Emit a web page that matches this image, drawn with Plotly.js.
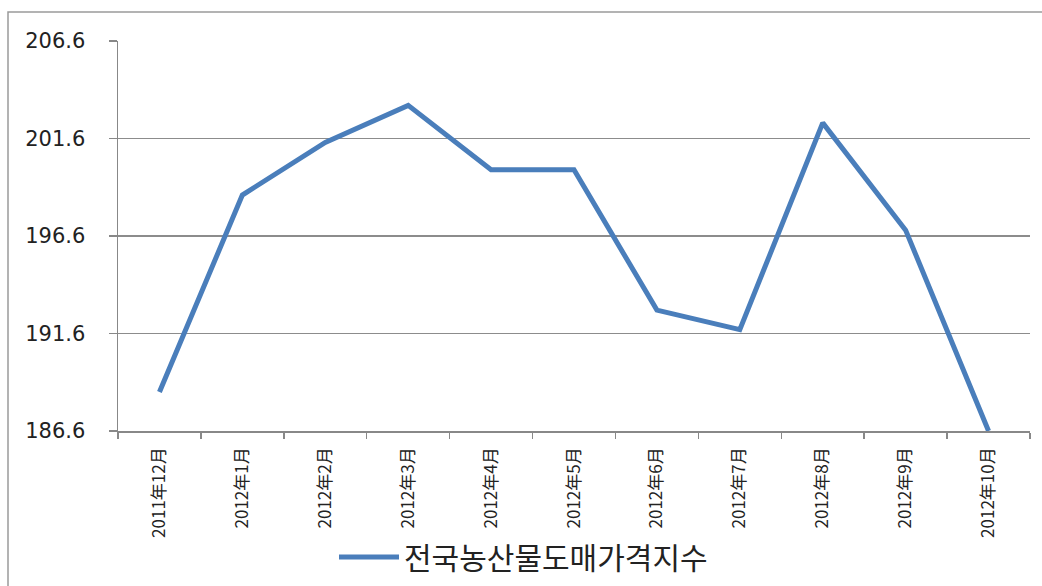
<!DOCTYPE html>
<html>
<head>
<meta charset="utf-8">
<script src="https://cdn.plot.ly/plotly-3.0.1.min.js"></script>
<style>html,body{margin:0;padding:0;background:#fff;}#chart{width:1042px;height:586px;}</style>
</head>
<body>
<div id="chart"></div>
<script>
const categories = ["2011年12月","2012年1月","2012年2月","2012年3月","2012年4月","2012年5月","2012年6月","2012年7月","2012年8月","2012年9月","2012年10月"];
const seriesName = "전국농산물도매가격지수";
const values = [188.6, 198.7, 201.4, 203.3, 200.0, 200.0, 192.8, 191.8, 202.4, 196.9, 186.6];
const yTicks = [186.6, 191.6, 196.6, 201.6, 206.6];
const yTickText = ["186.6","191.6","196.6","201.6","206.6"];

const L = 118, R = 1030, T = 41, B = 431, W = 1042, H = 586;
const px = x => (x - L) / (R - L);
const py = y => (B - y) / (B - T);

const trace = {
  x: categories, y: values, type: 'scatter', mode: 'lines', name: seriesName,
  line: {color: '#4A7EBB', width: 5}, cliponaxis: true
};
const layout = {
  width: W, height: H,
  margin: {l: L, r: W - R, t: T, b: H - B, pad: 0, autoexpand: false},
  paper_bgcolor: '#fff', plot_bgcolor: '#fff',
  font: {family: 'DejaVu Sans, sans-serif', color: '#222'},
  xaxis: {
    type: 'category', tickson: 'boundaries', ticks: 'outside', ticklen: 6, tickcolor: '#888', tickwidth: 1.5,
    showline: true, linecolor: '#888', linewidth: 1.5, showgrid: false, tickangle: -90,
    ticklabelstandoff: 8,
    tickfont: {family: '"Noto Sans CJK SC", sans-serif', size: 17, color: '#222'},
    range: [-0.5, categories.length - 0.5], fixedrange: true, automargin: false
  },
  yaxis: {
    range: [186.6, 206.6], tickvals: yTicks, ticktext: yTickText, ticks: 'outside', ticklen: 8,
    tickcolor: '#888', tickwidth: 1.5, showline: true, linecolor: '#888', linewidth: 1.5,
    showgrid: true, gridcolor: '#8c8c8c', gridwidth: 1.2, zeroline: false,
    ticklabelstandoff: 19, automargin: false,
    tickfont: {family: 'DejaVu Sans, sans-serif', size: 21, color: '#222'}, fixedrange: true
  },
  showlegend: true,
  legend: {
    orientation: 'h', x: px(334), xanchor: 'left', y: py(557), yanchor: 'middle',
    font: {family: '"Noto Sans CJK KR", sans-serif', size: 30, color: '#222'},
    bgcolor: 'rgba(0,0,0,0)', itemwidth: 60
  },
  shapes: [{
    type: 'rect', xref: 'paper', yref: 'paper', x0: px(8), x1: px(1060), y0: py(600), y1: py(12),
    line: {color: '#9a9a9a', width: 1.5}, fillcolor: 'rgba(0,0,0,0)', layer: 'below'
  }]
};
Plotly.newPlot('chart', [trace], layout, {displayModeBar: false, staticPlot: true});
</script>
</body>
</html>
